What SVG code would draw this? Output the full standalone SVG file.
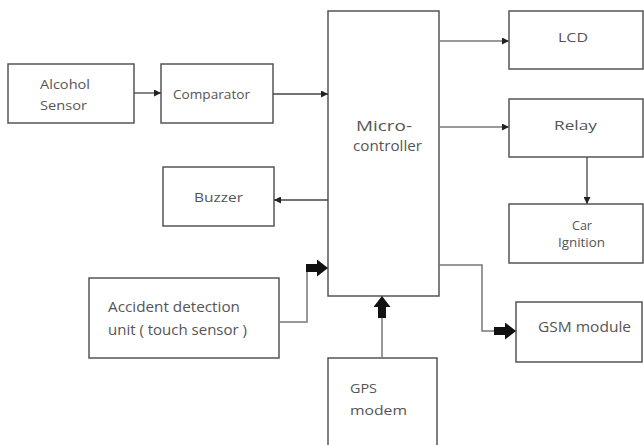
<svg xmlns="http://www.w3.org/2000/svg" width="644" height="445" viewBox="0 0 644 445">
<style>
.box{fill:#fff;stroke:#555;stroke-width:1.5}
text{font-family:"Open Sans","DejaVu Sans",sans-serif;font-size:13px;fill:#555}
.big{font-size:15px}
.c{fill:none;stroke:#444;stroke-width:1.3}
.ck{fill:none;stroke:#777;stroke-width:1.5}
</style>
<defs>
<marker id="a" viewBox="0 0 10 10" refX="10" refY="5" markerWidth="7" markerHeight="7" markerUnits="userSpaceOnUse" orient="auto"><path d="M0,0 L10,5 L0,10 z" fill="#222"/></marker>
<marker id="b" viewBox="0 0 22 17" refX="22" refY="8.5" markerWidth="22" markerHeight="17" markerUnits="userSpaceOnUse" orient="auto"><path d="M0,4.5 L11,4.5 L11,0 L22,8.5 L11,17 L11,12.5 L0,12.5 z" fill="#111"/></marker>
</defs>
<g id="alcohol"><rect class="box" x="8" y="64" width="126" height="59"/><text x="40" y="89" textLength="50" lengthAdjust="spacingAndGlyphs">Alcohol</text><text x="40" y="110" textLength="47" lengthAdjust="spacingAndGlyphs">Sensor</text></g>
<g id="comparator"><rect class="box" x="161" y="64" width="112" height="59"/><text x="173" y="99" textLength="77" lengthAdjust="spacingAndGlyphs">Comparator</text></g>
<g id="micro"><rect class="box" x="328" y="11" width="111" height="285"/><text class="big" x="356" y="131" textLength="56" lengthAdjust="spacingAndGlyphs">Micro-</text><text class="big" x="353" y="151" textLength="69" lengthAdjust="spacingAndGlyphs">controller</text></g>
<g id="lcd"><rect class="box" x="509" y="11" width="134" height="58"/><text x="558" y="42" textLength="30" lengthAdjust="spacingAndGlyphs">LCD</text></g>
<g id="relay"><rect class="box" x="509" y="99" width="134" height="58"/><text x="554" y="130" textLength="43" lengthAdjust="spacingAndGlyphs">Relay</text></g>
<g id="ignition"><rect class="box" x="509" y="204" width="134" height="59"/><text x="572" y="230" textLength="20" lengthAdjust="spacingAndGlyphs">Car</text><text x="558" y="247" textLength="47" lengthAdjust="spacingAndGlyphs">Ignition</text></g>
<g id="gsm"><rect class="box" x="516" y="302" width="126" height="60"/><text style="font-size:14px" x="538" y="332" textLength="93" lengthAdjust="spacingAndGlyphs">GSM module</text></g>
<g id="buzzer"><rect class="box" x="163" y="167" width="111" height="59"/><text x="194" y="202" textLength="49" lengthAdjust="spacingAndGlyphs">Buzzer</text></g>
<g id="accident"><rect class="box" x="89" y="278" width="190" height="80"/><text class="big" x="108" y="312" textLength="132" lengthAdjust="spacingAndGlyphs">Accident detection</text><text class="big" x="108" y="335" textLength="139" lengthAdjust="spacingAndGlyphs">unit ( touch sensor )</text></g>
<g id="gps"><rect class="box" x="328" y="358" width="109" height="92"/><text x="350" y="393" textLength="27" lengthAdjust="spacingAndGlyphs">GPS</text><text x="350" y="415" textLength="57" lengthAdjust="spacingAndGlyphs">modem</text></g>
<g id="connectors">
<line class="c" x1="134" y1="93" x2="161" y2="93" marker-end="url(#a)"/>
<line class="c" x1="273" y1="94" x2="328" y2="94" marker-end="url(#a)"/>
<line class="ck" x1="439" y1="41" x2="509" y2="41" marker-end="url(#a)"/>
<line class="ck" x1="439" y1="127" x2="509" y2="127" marker-end="url(#a)"/>
<line class="c" x1="587" y1="157" x2="587" y2="204" marker-end="url(#a)"/>
<line class="c" x1="328" y1="200" x2="274" y2="200" marker-end="url(#a)"/>
<polyline class="ck" points="279,322 307,322 307,268 328,268" marker-end="url(#b)"/>
<line class="ck" x1="382" y1="358" x2="382" y2="296" marker-end="url(#b)"/>
<polyline class="ck" points="439,265 482,265 482,331 516,331" marker-end="url(#b)"/>
</g>
</svg>
